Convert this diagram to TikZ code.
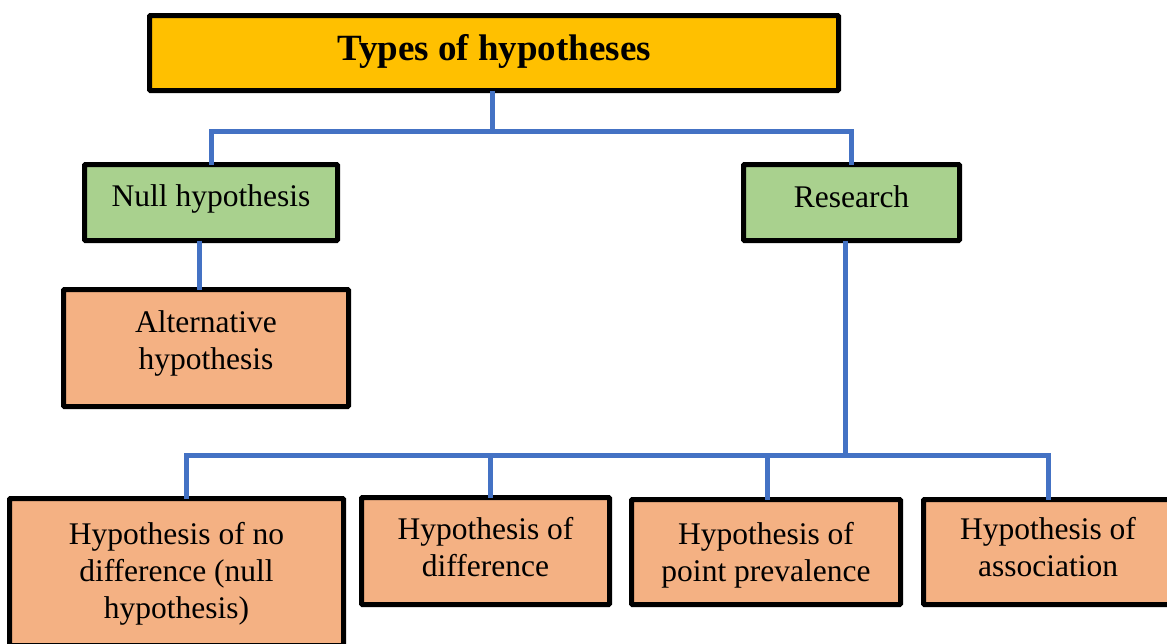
\documentclass[tikz,border=0pt]{standalone}
\usepackage{fontspec}
\setmainfont{Liberation Serif}
\definecolor{titlefill}{HTML}{FFC000}
\definecolor{greenfill}{HTML}{A9D18E}
\definecolor{orangefill}{HTML}{F4B183}
\definecolor{linkblue}{HTML}{4472C4}
\begin{document}
\begin{tikzpicture}[x=1pt,y=-1pt,
  box/.style={draw=black,line width=5pt,rounded corners=1pt,inner sep=0pt,outer sep=0pt,
    align=center,font=\fontsize{31.5}{37}\selectfont},
  titlebox/.style={box,fill=titlefill,font=\bfseries\fontsize{37}{40}\selectfont},
  greenbox/.style={box,fill=greenfill},
  orangebox/.style={box,fill=orangefill},
  conn/.style={draw=linkblue,line width=5pt}]
\clip (0,0) rectangle (1167,643);
\fill[white] (0,0) rectangle (1167,643);

% boxes (centre, inner size = outer size - line width)
\node[titlebox,minimum width=689pt,minimum height=75pt,text depth=12pt] (title) at (494,53) {Types of hypotheses};
\node[greenbox,minimum width=253pt,minimum height=76pt,text depth=13pt] (null) at (211,202.5) {Null hypothesis};
\node[greenbox,minimum width=216pt,minimum height=76pt,text depth=11pt] (research) at (851.5,202.5) {Research};
\node[orangebox,minimum width=285pt,minimum height=117pt,text depth=15pt] (alt) at (206,348) {Alternative\\hypothesis};
\node[orangebox,minimum width=334pt,minimum height=147pt,text depth=3pt] (nodiff) at (176.5,572) {Hypothesis of no\\difference (null\\hypothesis)};
\node[orangebox,minimum width=248pt,minimum height=107pt,text depth=8pt] (diff) at (485.5,551) {Hypothesis of\\difference};
\node[orangebox,minimum width=269pt,minimum height=105pt,text depth=1pt] (point) at (766,552) {Hypothesis of\\point prevalence};
\node[orangebox,minimum width=249pt,minimum height=105pt,text depth=10pt] (assoc) at (1048,552) {Hypothesis of\\association};

% junction points of the connectors
\coordinate (j1) at (492,131);
\coordinate (j2) at (845,455);
\coordinate (a1) at (199,0);

% connectors
\draw[conn] (title.south -| j1) -- (j1) -| (null.north);
\draw[conn] (j1) -| (research.north);
\draw[conn] (null.south -| a1) -- (alt.north -| a1);
\draw[conn] (research.south -| j2) -- (j2);
\draw[conn] (j2) -| ([xshift=9.5pt]nodiff.north);
\draw[conn] (j2) -| ([xshift=4.5pt]diff.north);
\draw[conn] (j2) -| ([xshift=1pt]point.north);
\draw[conn] (j2) -| (assoc.north);
\end{tikzpicture}
\end{document}
